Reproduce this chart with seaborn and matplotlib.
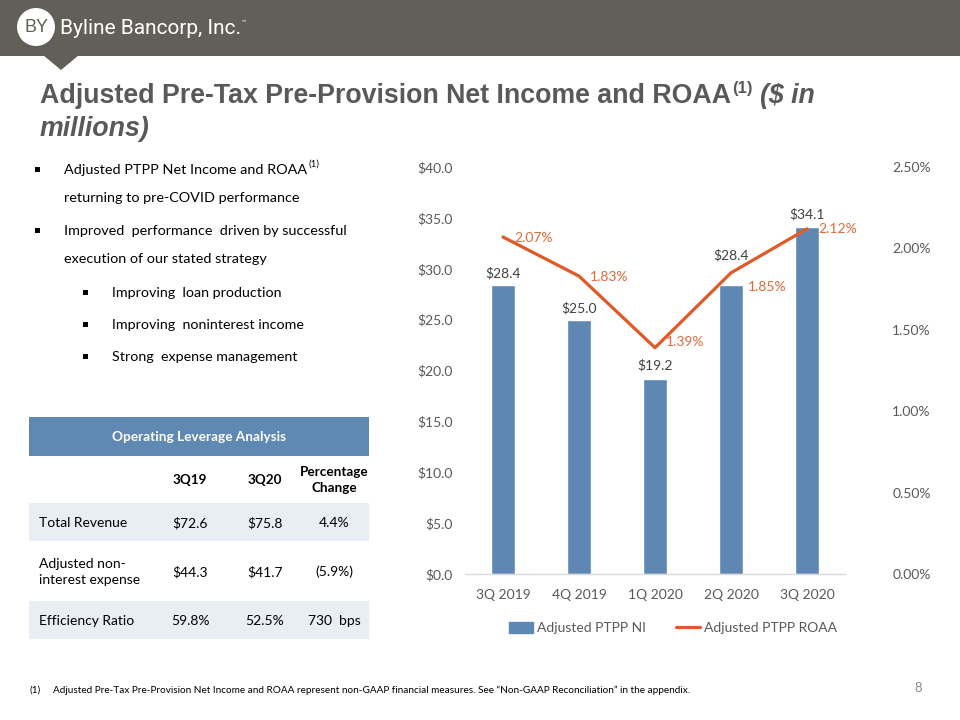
import matplotlib
matplotlib.use("Agg")
import matplotlib.pyplot as plt
import matplotlib.patches as mpatches
from matplotlib.ticker import FuncFormatter, MultipleLocator
from matplotlib.lines import Line2D
import seaborn as sns
import numpy as np
import pandas as pd

# chart data
quarters = ["3Q 2019", "4Q 2019", "1Q 2020", "2Q 2020", "3Q 2020"]
ptpp_ni = [28.4, 25.0, 19.2, 28.4, 34.1]
ptpp_roaa = [2.07, 1.83, 1.39, 1.85, 2.12]

# table data
table_title = "Operating Leverage Analysis"
table_cols = ["3Q19", "3Q20", "Percentage\nChange"]
table_rows = ["Total Revenue", "Adjusted non-\ninterest expense", "Efficiency Ratio"]
values_3q19 = ["$72.6", "$44.3", "59.8%"]
values_3q20 = ["$75.8", "$41.7", "52.5%"]
values_change = ["4.4%", "(5.9%)", "730  bps"]

bullets = [
    "Adjusted PTPP Net Income and ROAA",
    "returning to pre-COVID performance",
    "Improved  performance  driven by successful",
    "execution of our stated strategy",
]
sub_bullets = ["Improving  loan production", "Improving  noninterest income", "Strong  expense management"]

footnote = ("Adjusted Pre-Tax Pre-Provision Net Income and ROAA represent non-GAAP financial "
            "measures. See \u201cNon-GAAP Reconciliation\u201d in the appendix.")

sns.set_theme(style="white")
BODY = ["Lato", "DejaVu Sans"]
plt.rcParams["font.family"] = BODY

GRAY = "#595959"
BAR = "#5E88B3"
LINE = "#E05A27"
BAND = "#625F58"

fig = plt.figure(figsize=(9.6, 7.2), dpi=100)
renderer = fig.canvas.get_renderer()

# page layer in pixel coordinates
bg = fig.add_axes([0, 0, 1, 1])
bg.set_xlim(0, 960)
bg.set_ylim(720, 0)
bg.axis("off")


def right_edge(t):
    return bg.transData.inverted().transform(t.get_window_extent(renderer))[1][0]


# header band with logo
bg.add_patch(mpatches.Rectangle((0, 0), 960, 56, color=BAND, lw=0))
bg.add_patch(mpatches.Polygon([(43, 55), (79, 55), (61, 70)], color=BAND, lw=0))
bg.add_patch(mpatches.Circle((36, 27), 19, color="white", lw=0))
bg.text(36, 28, "BY", ha="center", va="center", color=BAND, fontsize=13,
        family=["Liberation Sans Narrow", "Liberation Sans"])
logo = bg.text(60, 28, "Byline Bancorp, Inc.", ha="left", va="center", color="white",
               fontsize=15, family=["Liberation Sans Narrow", "Roboto"])
bg.text(right_edge(logo) + 1, 22, "\u2122", ha="left", va="center", color="white", fontsize=4)

# title, built piece by piece
tkw = dict(color=GRAY, fontsize=19.3, family=["Liberation Sans"], fontweight="bold", va="baseline")
t1 = bg.text(40, 103, "Adjusted Pre-Tax Pre-Provision Net Income and ROAA", **tkw)
t2 = bg.text(right_edge(t1) + 1, 93, "(1)", **{**tkw, "fontsize": 12})
bg.text(right_edge(t2) + 7, 103, "($ in", **tkw, style="italic")
bg.text(40, 136, "millions)", **tkw, style="italic")

# bullets
main_y = [170, 198, 231, 259]
for y, txt, has_marker in zip(main_y, bullets, [True, False, True, False]):
    if has_marker:
        bg.add_patch(mpatches.Rectangle((35, y - 3), 5, 5, color="black", lw=0))
    t = bg.text(64, y, txt, ha="left", va="center", color="black", fontsize=10.4)
    if txt.endswith("ROAA"):
        bg.text(right_edge(t) + 1, y - 6, "(1)", ha="left", va="center", color="black", fontsize=7)
for y, txt in zip([293, 325, 357], sub_bullets):
    bg.add_patch(mpatches.Rectangle((83, y - 3), 5, 5, color="black", lw=0))
    bg.text(112, y, txt, ha="left", va="center", color="black", fontsize=10.3)

# operating leverage table
tx0, tx1 = 29, 369
col_x = [190, 265, 334]
bg.add_patch(mpatches.Rectangle((tx0, 417), tx1 - tx0, 39, color="#5F88B2", lw=0))
bg.text((tx0 + tx1) / 2, 437, table_title, ha="center", va="center", color="white",
        fontsize=9.8, fontweight="bold")
for cx, c in zip(col_x, table_cols):
    bg.text(cx, 480, c, ha="center", va="center", color="black", fontsize=9.7,
            fontweight="bold", linespacing=1.3)
row_bounds = [(503, 541), (541, 601), (601, 639)]
for i, (top, bot) in enumerate(row_bounds):
    if i % 2 == 0:
        bg.add_patch(mpatches.Rectangle((tx0, top), tx1 - tx0, bot - top, color="#E9EDF4", lw=0))
    yc = (top + bot) / 2 + 1
    bg.text(39, yc, table_rows[i], ha="left", va="center", color="black", fontsize=10,
            linespacing=1.3)
    for cx, vals in zip(col_x, [values_3q19, values_3q20, values_change]):
        bg.text(cx, yc, vals[i], ha="center", va="center", color="black", fontsize=10)

# footnote and page number
bg.text(30, 690, "(1)", ha="left", va="center", color="black", fontsize=7.2)
bg.text(53, 690, footnote, ha="left", va="center", color="black", fontsize=7.2)
bg.text(918, 688, "8", ha="center", va="center", color="#8C8C8C", fontsize=9.5)

# chart
ax = fig.add_axes([465 / 960, 1 - 574 / 720, 380 / 960, 407 / 720])
df = pd.DataFrame({"quarter": quarters, "ni": ptpp_ni, "roaa": ptpp_roaa})
sns.barplot(data=df, x="quarter", y="ni", color=BAR, width=0.32, saturation=1, ax=ax)
ax.set_ylim(0, 40)
ax.set_xlim(-0.5, len(quarters) - 0.5)
ax.yaxis.set_major_locator(MultipleLocator(5))
ax.yaxis.set_major_formatter(FuncFormatter(lambda v, p: f"${v:.1f}"))
ax.set_xlabel("")
ax.set_ylabel("")
bar_label_pad = [4, 4, 5, 17, 5]
for i, (v, pad) in enumerate(zip(ptpp_ni, bar_label_pad)):
    ax.annotate(f"${v:.1f}", (i, v), xytext=(0, pad), textcoords="offset points",
                ha="center", va="bottom", color="#404040", fontsize=10)

ax2 = ax.twinx()
sns.lineplot(x=np.arange(len(quarters)), y=ptpp_roaa, color=LINE, linewidth=2.3, ax=ax2)
ax2.set_ylim(0, 2.5)
ax2.yaxis.set_major_locator(MultipleLocator(0.5))
ax2.yaxis.set_major_formatter(FuncFormatter(lambda v, p: f"{v:.2f}%"))
label_offsets = [(8, -1), (8, -1), (8, 4), (12, -10), (8, 0)]
for i, (v, off) in enumerate(zip(ptpp_roaa, label_offsets)):
    ax2.annotate(f"{v:.2f}%", (i, v), xytext=off, textcoords="offset points",
                 ha="left", va="center", color="#E0693A", fontsize=10)

for a in (ax, ax2):
    for s in a.spines.values():
        s.set_visible(False)
    a.set_facecolor("none")
ax.spines["bottom"].set_visible(True)
ax.spines["bottom"].set_color("#D9D9D9")
ax.spines["bottom"].set_linewidth(1)
ax.tick_params(axis="y", length=0, pad=9, labelcolor=GRAY, labelsize=10)
ax.tick_params(axis="x", length=0, pad=11, labelcolor=GRAY, labelsize=10)
ax2.tick_params(axis="y", length=0, pad=34, labelcolor=GRAY, labelsize=10)

handles = [mpatches.Patch(color=BAR, label="Adjusted PTPP NI"),
           Line2D([], [], color=LINE, lw=2.3, label="Adjusted PTPP ROAA")]
fig.legend(handles=handles, loc="center", bbox_to_anchor=(673 / 960, 1 - 628 / 720), ncol=2,
           frameon=False, fontsize=10, labelcolor=GRAY, handlelength=1.7, handleheight=0.8,
           columnspacing=2.2, handletextpad=0.3)

fig.savefig("out.png", dpi=100)
